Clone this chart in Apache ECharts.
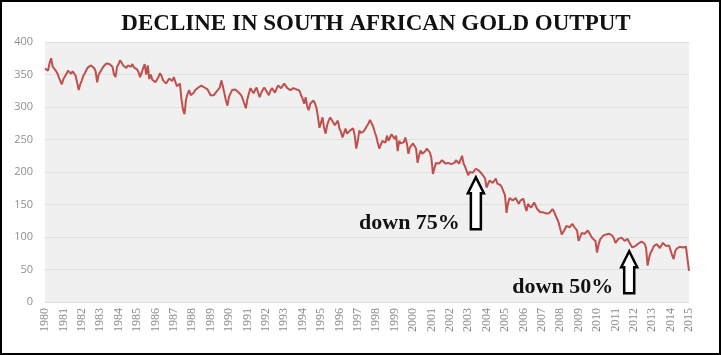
<!DOCTYPE html>
<html>
<head>
<meta charset="utf-8">
<script src="https://cdn.jsdelivr.net/npm/echarts@6/dist/echarts.min.js"></script>
<style>
html,body{margin:0;padding:0;background:#fff;}
#c{width:721px;height:355px;}
</style>
</head>
<body>
<div id="c"></div>
<script>
// Tick labels (years) on the category axis
const yearLabels = [1980,1981,1982,1983,1984,1985,1986,1987,1988,1989,1990,1991,1992,1993,1994,1995,1996,1997,1998,1999,2000,2001,2002,2003,2004,2005,2006,2007,2008,2009,2010,2011,2012,2013,2014,2015];
const yTicks = [0,50,100,150,200,250,300,350,400];

// Monthly gold output index
const gold1980s = [
  359,361,356,368,375,362,360,356,352,349,340,335,
  343,347,351,356,353,351,355,357,348,337,326,335,
  341,348,352,357,361,360,364,361,360,355,338,350,
  354,358,362,365,367,369,366,367,362,350,346,362,
  366,372,368,364,362,360,364,365,362,366,361,360,
  358,354,346,352,360,366,350,364,343,350,342,340,
  338,342,346,352,348,341,338,336,340,344,345,340,
  346,349,332,330,336,312,296,289,312,320,326,318,
  318,322,326,324,330,328,333,331,330,332,327,325,
  318,315,318,321,324,326,330,341,332,321,310,302
];
const gold1990s = [
  316,321,326,329,327,325,323,321,318,312,305,298,
  312,321,329,325,321,326,330,322,315,322,326,330,
  326,322,318,325,329,326,322,328,333,330,329,332,
  336,334,329,327,326,328,329,330,327,326,325,318,
  313,305,315,301,295,305,308,310,306,299,285,268,
  276,284,268,259,272,279,284,281,276,272,275,279,
  267,262,253,260,267,259,262,264,266,267,256,236,
  248,264,260,261,263,267,270,275,280,282,270,262,
  255,245,236,233,248,251,245,256,248,253,258,261,
  251,256,232,248,244,241,246,253,244,228,238,241
];
const gold2000s = [
  244,240,236,214,226,233,228,230,232,236,233,230,
  221,197,206,214,211,213,215,218,216,213,212,214,
  214,212,210,214,218,216,213,219,225,213,208,207,
  195,200,202,199,201,205,203,202,199,197,194,190,
  176,182,187,184,183,186,190,182,184,180,176,174,
  164,137,152,160,158,156,158,160,155,151,156,159,
  159,148,140,151,148,145,149,153,150,143,140,138,
  136,138,140,136,133,137,140,143,139,133,128,122,
  120,104,102,112,117,114,115,118,120,116,113,110,
  94,100,106,104,105,108,110,106,102,98,96,94
];
const gold2010s = [
  76,88,96,98,102,100,104,106,105,103,102,98,
  91,94,97,98,99,96,94,95,97,92,89,84,
  84,86,89,90,91,93,94,90,83,56,68,76,
  80,86,88,89,86,83,86,91,88,86,89,87,
  89,72,66,78,82,83,85,86,84,83,85,86,
  48
];

// Annotations: [category index of arrow tip, value at arrow tip, text]
const notes = [
  {at: 281, value: 192, text: 'down 75%'},
  {at: 381, value: 78, text: 'down 50%'}
];

const values = gold1980s.concat(gold1990s, gold2000s, gold2010s);
const months = [];
for (let i = 0; i < values.length; i++) {
  const y = yearLabels[0] + Math.floor(i / 12);
  const m = (i % 12) + 1;
  months.push(y + '-' + (m < 10 ? '0' + m : m));
}

const chart = echarts.init(document.getElementById('c'), null, {renderer: 'canvas'});
const option = {
  animation: false,
  backgroundColor: '#ffffff',
  title: {
    text: 'DECLINE IN SOUTH AFRICAN GOLD OUTPUT',
    left: 371, top: 8, textAlign: 'center',
    textStyle: {fontFamily: 'Liberation Serif', fontWeight: 'bold', fontSize: 23, color: '#111'}
  },
  grid: {left: 45, right: 32, top: 42, bottom: 53, show: true, backgroundColor: '#f0f0f0', borderWidth: 0},
  xAxis: {
    type: 'category', data: months, boundaryGap: false,
    axisLine: {show: false}, axisTick: {show: false},
    axisLabel: {
      interval: 11, rotate: 90, margin: 6, color: '#8c8c8c',
      fontFamily: 'Liberation Serif', fontSize: 12,
      formatter: v => v.slice(0, 4)
    },
    splitLine: {show: false}
  },
  yAxis: {
    type: 'value', min: yTicks[0], max: yTicks[yTicks.length - 1], interval: yTicks[1] - yTicks[0],
    axisLine: {show: false}, axisTick: {show: false},
    axisLabel: {color: '#8f8f8f', fontFamily: 'Open Sans', fontSize: 11, margin: 12},
    splitLine: {lineStyle: {color: '#e0e0e0', width: 1}}
  },
  series: [{
    type: 'line', data: values, showSymbol: false, symbol: 'none',
    lineStyle: {color: '#c0504d', width: 2},
    z: 3
  }]
};
chart.setOption(option);

function arrow(tx, ty, len) {
  // outlined upward arrow with tip at (tx, ty)
  const hw = 8, sw = 5, hh = 16;
  return {
    type: 'polygon', z: 10,
    shape: {points: [[tx, ty], [tx + hw, ty + hh], [tx + sw, ty + hh], [tx + sw, ty + len], [tx - sw, ty + len], [tx - sw, ty + hh], [tx - hw, ty + hh]]},
    style: {fill: '#ffffff', stroke: '#000000', lineWidth: 2.5, lineJoin: 'miter'}
  };
}

const gfx = [];
notes.forEach((n, k) => {
  const p = chart.convertToPixel({gridIndex: 0}, [n.at, n.value]);
  const len = k === 0 ? 52 : 42;
  gfx.push(arrow(p[0], p[1], len));
  gfx.push({
    type: 'text', z: 10,
    style: {
      text: n.text, x: p[0] - 16, y: p[1] + len + 5, align: 'right', verticalAlign: 'bottom',
      font: 'bold 22px "Liberation Serif"', fill: '#111'
    }
  });
});
gfx.push({type: 'rect', z: 20, shape: {x: 1, y: 1, width: 719, height: 353}, style: {fill: 'none', stroke: '#000', lineWidth: 2}});
chart.setOption({graphic: gfx});
</script>
</body>
</html>
